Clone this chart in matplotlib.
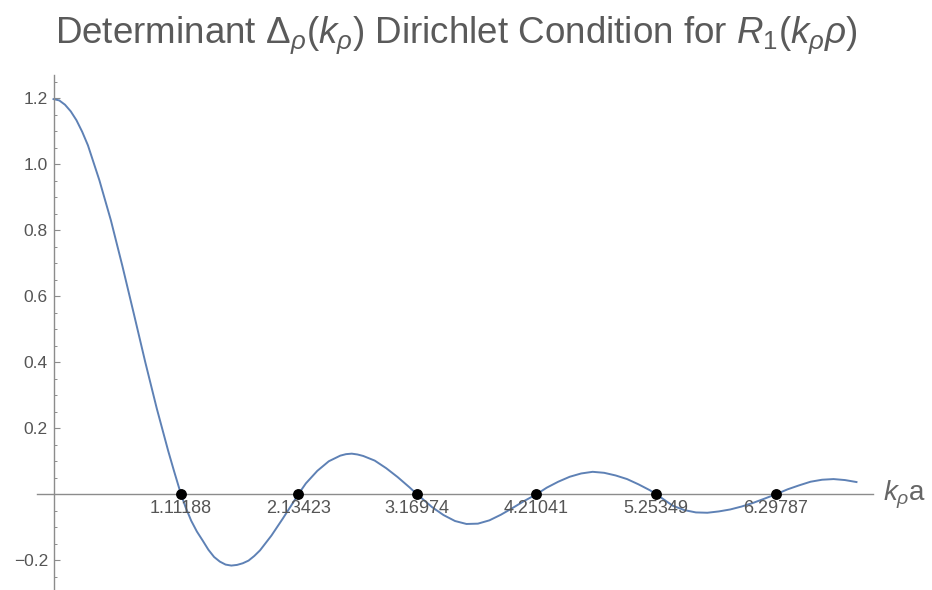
import matplotlib
matplotlib.use("Agg")
import matplotlib.pyplot as plt
from matplotlib.ticker import MultipleLocator, FixedLocator

plt.rcParams["font.family"] = ["Liberation Sans", "DejaVu Sans"]
plt.rcParams["mathtext.fontset"] = "custom"
plt.rcParams["mathtext.rm"] = "Liberation Sans"
plt.rcParams["mathtext.it"] = "Liberation Sans:italic"

# sampled determinant curve Delta(k a)
ka = [0.0, 0.05, 0.1, 0.15, 0.2, 0.25, 0.3, 0.4, 0.5, 0.6, 0.7, 0.8, 0.9, 1.0, 1.05, 1.1, 1.11188,
      1.15, 1.2, 1.25, 1.3, 1.35, 1.4, 1.45, 1.5, 1.55, 1.6, 1.65, 1.7, 1.75, 1.8, 1.9, 2.0, 2.1, 2.13423,
      2.2, 2.3, 2.4, 2.5, 2.55, 2.6, 2.65, 2.7, 2.8, 2.9, 3.0, 3.1, 3.16974,
      3.2, 3.3, 3.4, 3.5, 3.6, 3.7, 3.8, 3.9, 4.0, 4.1, 4.21041,
      4.3, 4.4, 4.5, 4.6, 4.7, 4.8, 4.9, 5.0, 5.1, 5.2, 5.25349,
      5.3, 5.4, 5.5, 5.6, 5.7, 5.8, 5.9, 6.0, 6.1, 6.2, 6.29787,
      6.4, 6.5, 6.6, 6.7, 6.8, 6.9, 7.0]
delta = [1.197, 1.193, 1.180, 1.160, 1.133, 1.098, 1.057, 0.951, 0.830, 0.692, 0.547, 0.400, 0.260, 0.131, 0.071, 0.013, 0.0,
         -0.038, -0.080, -0.113, -0.140, -0.168, -0.190, -0.204, -0.213, -0.216, -0.214, -0.209, -0.201, -0.187, -0.170, -0.125, -0.073, -0.019, 0.0,
         0.033, 0.071, 0.100, 0.117, 0.1215, 0.123, 0.1205, 0.116, 0.102, 0.079, 0.052, 0.022, 0.0,
         -0.009, -0.039, -0.063, -0.081, -0.090, -0.089, -0.079, -0.062, -0.042, -0.021, 0.0,
         0.020, 0.038, 0.053, 0.063, 0.068, 0.065, 0.057, 0.046, 0.030, 0.012, 0.0,
         -0.011, -0.035, -0.048, -0.055, -0.056, -0.052, -0.046, -0.037, -0.026, -0.013, 0.0,
         0.015, 0.027, 0.038, 0.044, 0.046, 0.043, 0.037]

roots = [1.11188, 2.13423, 3.16974, 4.21041, 5.25349, 6.29787]
root_labels = ["1.11188", "2.13423", "3.16974", "4.21041", "5.25349", "6.29787"]
y_ticks = [-0.2, 0.2, 0.4, 0.6, 0.8, 1.0, 1.2]
y_labels = ["\u22120.2", "0.2", "0.4", "0.6", "0.8", "1.0", "1.2"]

axis_gray = "#8c8c8c"
text_gray = "#555555"

fig = plt.figure(figsize=(9.32, 5.9), dpi=100)
ax = fig.add_axes([37 / 932, 0.0, 836 / 932, 515 / 590])

ax.plot(ka, delta, color="#5e81b5", lw=1.4, zorder=2, solid_joinstyle="round")
ax.plot(roots, [0] * len(roots), "o", color="black", ms=6.8, zorder=3)
for r, lab in zip(roots, root_labels):
    ax.annotate(lab, (r, 0), xytext=(0, -4), textcoords="offset points",
                ha="center", va="top", fontsize=13, color=text_gray)

ax.set_xlim(-0.144, 7.144)
ax.set_ylim(-0.29, 1.27)

for s in ("top", "right"):
    ax.spines[s].set_visible(False)
ax.spines["left"].set_position(("data", 0))
ax.spines["bottom"].set_position(("data", 0))
for s in ("left", "bottom"):
    ax.spines[s].set_color(axis_gray)
    ax.spines[s].set_linewidth(1.0)

ax.set_xticks([])
ax.yaxis.set_major_locator(FixedLocator(y_ticks))
ax.set_yticklabels(y_labels)
ax.yaxis.set_minor_locator(MultipleLocator(0.05))
ax.tick_params(axis="y", which="major", direction="in", length=4.5, width=0.8,
               color=axis_gray, labelcolor=text_gray, labelsize=12.5, pad=4)
ax.tick_params(axis="y", which="minor", direction="in", length=2.5, width=0.7,
               color=axis_gray)

fig.text(883 / 932, 1 - 495 / 590, r"$k_\rho$a", fontsize=20, color="#666666",
         ha="left", va="center")

fig.text(0.49, 1 - 35 / 590,
         r"Determinant $\Delta_\rho(k_\rho)$ Dirichlet Condition for $R_1(k_\rho\rho)$",
         fontsize=26.5, color="#5a5a5a", ha="center", va="center")

fig.savefig("out.png", dpi=100)
